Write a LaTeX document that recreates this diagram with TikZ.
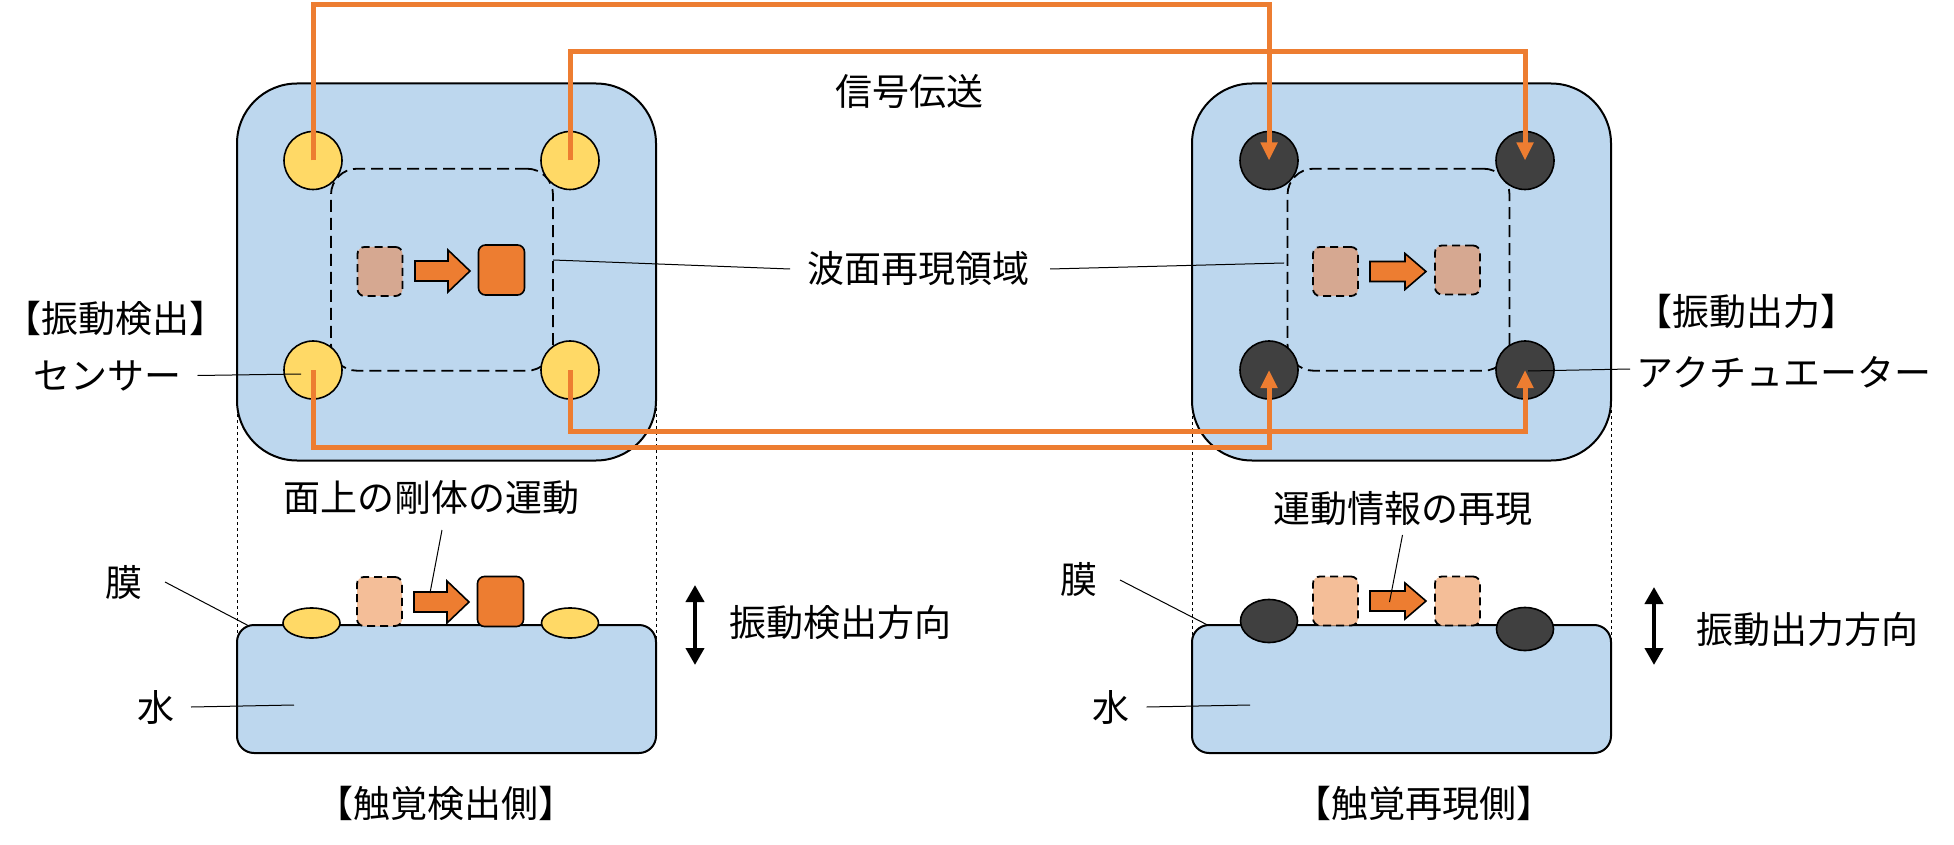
\documentclass[tikz,border=0pt]{standalone}
\usepackage{fontspec}
\newfontfamily\jp{Noto Sans CJK JP}
\usetikzlibrary{arrows.meta,shapes.geometric}
\definecolor{padblue}{HTML}{BDD7EE}
\definecolor{sensyellow}{HTML}{FFD966}
\definecolor{actdark}{HTML}{404040}
\definecolor{sigorange}{HTML}{ED7D31}
\definecolor{ghosttop}{HTML}{D6A891}
\definecolor{ghostbot}{HTML}{F4BE98}
\begin{document}
\begin{tikzpicture}[x=0.5pt,y=-0.5pt,
  pad/.style={draw=black, line width=1pt, fill=padblue, rounded corners=30pt, minimum width=209.5pt, minimum height=188.5pt, inner sep=0pt},
  water/.style={draw=black, line width=1pt, fill=padblue, rounded corners=8.5pt, minimum width=209.5pt, minimum height=64pt, inner sep=0pt},
  zone/.style={draw=black, dash pattern=on 6pt off 3pt, line width=0.9pt, rounded corners=13pt, minimum width=111pt, minimum height=101pt, inner sep=0pt},
  sensor/.style={circle, draw=black, line width=0.8pt, fill=sensyellow, minimum size=29pt, inner sep=0pt},
  actuator/.style={circle, draw=black, line width=0.8pt, fill=actdark, minimum size=29pt, inner sep=0pt},
  flatsensor/.style={ellipse, draw=black, line width=0.8pt, fill=sensyellow, minimum width=28.5pt, minimum height=15pt, inner sep=0pt},
  flatact/.style={ellipse, draw=black, line width=0.8pt, fill=actdark, minimum width=28.5pt, minimum height=21.5pt, inner sep=0pt},
  ghost/.style={draw=black, dash pattern=on 4pt off 2.5pt, line width=0.9pt, rounded corners=3.5pt, minimum width=22.5pt, minimum height=24.5pt, inner sep=0pt},
  rigid/.style={draw=black, line width=0.8pt, fill=sigorange, rounded corners=3.5pt, minimum width=23pt, minimum height=25pt, inner sep=0pt},
  sig/.style={draw=sigorange, line width=2.5pt},
  sigarrow/.style={sig, -{Triangle[length=9pt,width=8pt]}},
  lbl/.style={font=\jp\fontsize{18.5}{22}\selectfont, inner sep=0pt},
  leader/.style={draw=black, line width=0.5pt},
  guide/.style={draw=black, line width=0.4pt, dash pattern=on 1.5pt off 1.5pt},
  updown/.style={line width=2pt, {Triangle[length=8.5pt,width=9pt]}-{Triangle[length=8.5pt,width=9pt]}},
  blockarrow/.pic={\filldraw[draw=black, line width=0.8pt, fill=sigorange] (0,-10) -- (33,-10) -- (33,-21) -- (55,0) -- (33,21) -- (33,10) -- (0,10) -- cycle;},
  smallblockarrow/.pic={\filldraw[draw=black, line width=0.8pt, fill=sigorange] (0,-10) -- (35,-10) -- (35,-18) -- (56,0) -- (35,18) -- (35,10) -- (0,10) -- cycle;}
]
\useasboundingbox (0,0) rectangle (1954,845);

% guide lines (dotted side extensions)
\draw[guide] (237,300) -- (237,680);
\draw[guide] (656,300) -- (656,680);
\draw[guide] (1192,272) -- (1192,680);
\draw[guide] (1611,272) -- (1611,680);

% pads
\node[pad] (padL) at (446.5,272) {};
\node[pad] (padR) at (1401.5,272) {};

% reproduction zones
\node[zone] (zoneL) at (442,269.7) {};
\node[zone] (zoneR) at (1398.5,269.7) {};

% sensors and actuators
\node[sensor] (s1) at (313,160.5) {};
\node[sensor] (s2) at (570,160.5) {};
\node[sensor] (s3) at (313,370) {};
\node[sensor] (s4) at (570,370) {};
\node[actuator] (a1) at (1269,160.5) {};
\node[actuator] (a2) at (1525,160.5) {};
\node[actuator] (a3) at (1269,370) {};
\node[actuator] (a4) at (1525,370) {};

% rigid body motion (top views)
\node[ghost, fill=ghosttop] (g1) at (380,271.5) {};
\pic (m1) at (415,271) {blockarrow};
\node[rigid] (r1) at (501.5,270) {};
\node[ghost, fill=ghosttop] (g2) at (1335.5,271.5) {};
\pic (m2) at (1370,271.5) {smallblockarrow};
\node[ghost, fill=ghosttop] (g3) at (1457.5,270) {};

% water tanks (side views)
\node[water] (waterL) at (446.5,689) {};
\node[water] (waterR) at (1401.5,689) {};
\node[flatsensor] (e1) at (311.5,623) {};
\node[flatsensor] (e2) at (570,623) {};
\node[flatact] (e3) at (1269,621) {};
\node[flatact] (e4) at (1525,629) {};
\node[ghost, fill=ghostbot] (g4) at (379.5,601.5) {};
\pic (m3) at (414,602) {blockarrow};
\node[rigid] (r2) at (500.5,601.5) {};
\node[ghost, fill=ghostbot] (g5) at (1335.5,601) {};
\pic (m4) at (1370,601) {smallblockarrow};
\node[ghost, fill=ghostbot] (g6) at (1457.5,601) {};

% signal transmission
\draw[sigarrow] (s1.center) -- (s1.center |- 0,5) -| (a1.center);
\draw[sigarrow] (s2.center) -- (s2.center |- 0,52) -| (a2.center);
\draw[sigarrow] (s3.center) -- (s3.center |- 0,447) -| (a3.center);
\draw[sigarrow] (s4.center) -- (s4.center |- 0,431) -| (a4.center);

% labels
\node[lbl] (tx) at (909,91) {信号伝送};
\node[lbl] (wave) at (918,269) {波面再現領域};
\node[lbl] (detL) at (115.5,318) {【振動検出】};
\node[lbl] (sensL) at (107.5,375.5) {センサー};
\node[lbl] (outR) at (1746.5,311) {【振動出力】};
\node[lbl] (actR) at (1784,372) {アクチュエーター};
\node[lbl] (motL) at (431.5,498) {面上の剛体の運動};
\node[lbl] (motR) at (1403,509) {運動情報の再現};
\node[lbl] (memL) at (124,582) {膜};
\node[lbl] (watL) at (155.5,707) {水};
\node[lbl] (memR) at (1079,579) {膜};
\node[lbl] (watR) at (1111,707) {水};
\node[lbl] (dirL) at (840,622) {振動検出方向};
\node[lbl] (dirR) at (1807,629) {振動出力方向};
\node[lbl] (sideL) at (445.5,803) {【触覚検出側】};
\node[lbl] (sideR) at (1424,803) {【触覚再現側】};

% leader lines
\coordinate (wl1) at (553,260);
\coordinate (wl2) at (1284,263);
\draw[leader] (wl1) -- (790,269) coordinate (wl1e);
\draw[leader] (1050,269) coordinate (wl2s) -- (wl2);
\coordinate (sl) at (301,374);
\draw[leader] (197.5,375.5) coordinate (sls) -- (sl);
\coordinate (al) at (1528,371);
\draw[leader] (1630,369) coordinate (als) -- (al);
\coordinate (ml1) at (430,593);
\draw[leader] (442,530) coordinate (ml1s) -- (ml1);
\coordinate (ml2) at (1389.5,602);
\draw[leader] (1402.5,535) coordinate (ml2s) -- (ml2);
\coordinate (mb1) at (249,626);
\draw[leader] (165,582) coordinate (mb1s) -- (mb1);
\coordinate (wb1) at (294,705);
\draw[leader] (191,707) coordinate (wb1s) -- (wb1);
\coordinate (mb2) at (1207.5,625);
\draw[leader] (1120,580) coordinate (mb2s) -- (mb2);
\coordinate (wb2) at (1250,705);
\draw[leader] (1146.5,707) coordinate (wb2s) -- (wb2);

% vibration direction arrows
\coordinate (dL1) at (695,585);
\coordinate (dL2) at (695,665);
\coordinate (dR1) at (1654,587);
\coordinate (dR2) at (1654,665);
\draw[updown] (dL1) -- (dL2);
\draw[updown] (dR1) -- (dR2);
\end{tikzpicture}
\end{document}
